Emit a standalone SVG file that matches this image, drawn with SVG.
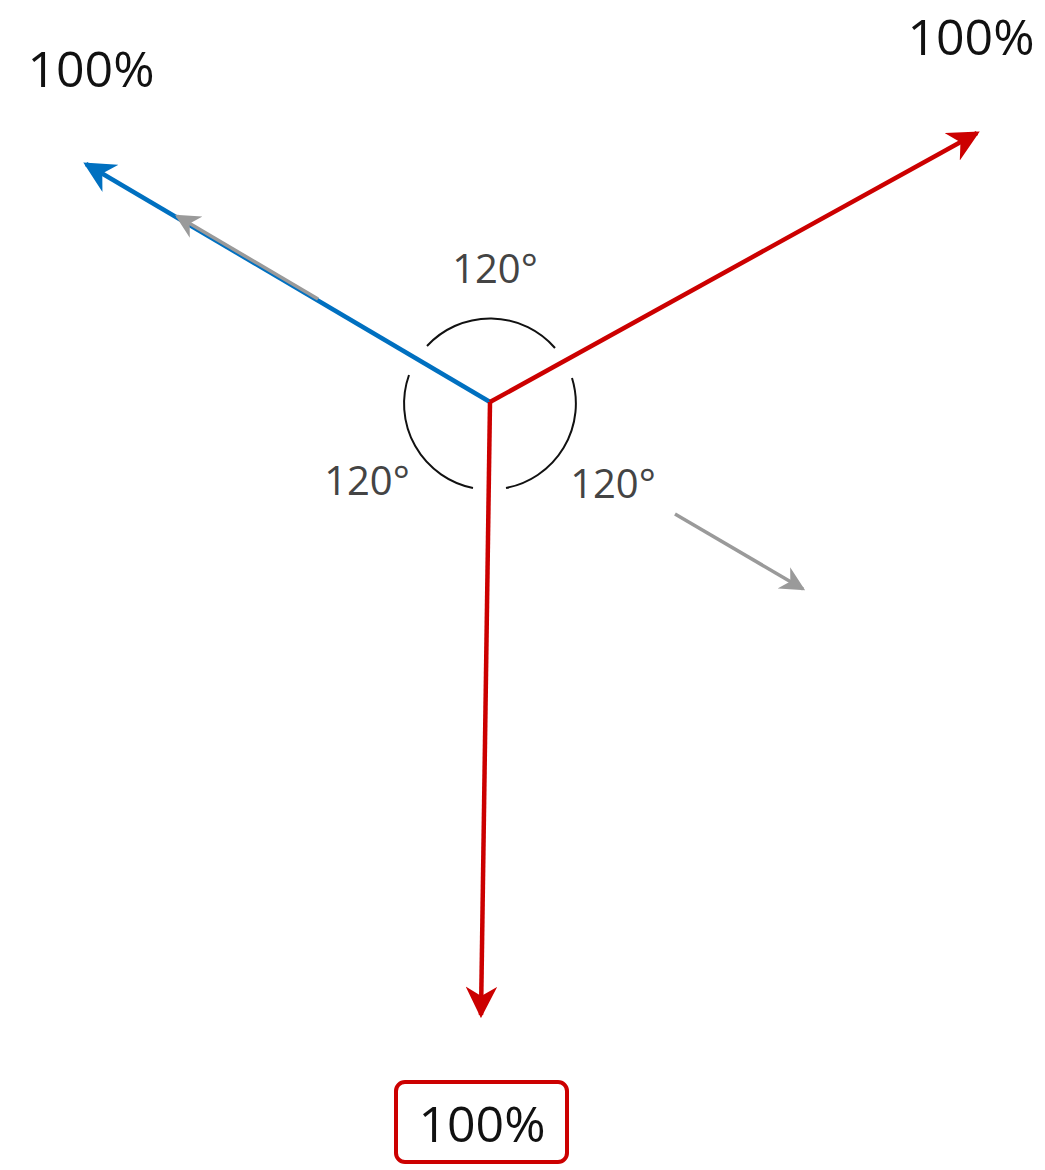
<svg xmlns="http://www.w3.org/2000/svg" width="1045" height="1170" viewBox="0 0 1045 1170">
<style>
.lbl{font-family:"Open Sans","Noto Sans",sans-serif;fill:#111;font-size:50px;text-anchor:middle;}
.ang{font-family:"Open Sans","Noto Sans",sans-serif;fill:#444;font-size:40px;text-anchor:middle;}
.arc{fill:none;stroke:#111;stroke-width:2;}
</style>
<defs>
<marker id="ar" viewBox="0 0 10 10" refX="9" refY="5" markerWidth="7" markerHeight="7" orient="auto" markerUnits="strokeWidth"><path d="M0,0 L10,5 L0,10 L3,5 Z" fill="#CC0000"/></marker>
<marker id="ab" viewBox="0 0 10 10" refX="9" refY="5" markerWidth="7" markerHeight="7" orient="auto" markerUnits="strokeWidth"><path d="M0,0 L10,5 L0,10 L3,5 Z" fill="#0070C0"/></marker>
<marker id="ag" viewBox="0 0 10 10" refX="9" refY="5" markerWidth="7" markerHeight="7" orient="auto" markerUnits="strokeWidth"><path d="M0,0 L10,5 L0,10 L3,5 Z" fill="#9a9a9a"/></marker>
</defs>
<g id="connectors">
<line x1="490" y1="402" x2="86" y2="164" stroke="#0070C0" stroke-width="4.5" marker-end="url(#ab)"/>
<line x1="318" y1="299" x2="177" y2="216" stroke="#9a9a9a" stroke-width="3.5" marker-end="url(#ag)"/>
<line x1="490" y1="402" x2="977" y2="133" stroke="#CC0000" stroke-width="4.5" marker-end="url(#ar)"/>
<line x1="490" y1="402" x2="481" y2="1015" stroke="#CC0000" stroke-width="4.5" marker-end="url(#ar)"/>
<line x1="675" y1="514" x2="803" y2="589" stroke="#9a9a9a" stroke-width="3.5" marker-end="url(#ag)"/>
</g>
<g id="angle-arcs">
<path class="arc" d="M427,346 A86,86 0 0 1 555,348"/>
<path class="arc" d="M572,378 A86,86 0 0 1 506,488"/>
<path class="arc" d="M473,488 A86,86 0 0 1 409,375"/>
</g>
<g id="angle-labels">
<text class="ang" x="495" y="283">120°</text>
<text class="ang" x="367" y="495">120°</text>
<text class="ang" x="613" y="498">120°</text>
</g>
<g id="node-left"><text class="lbl" x="91" y="87">100%</text></g>
<g id="node-right"><text class="lbl" x="971" y="55">100%</text></g>
<g id="node-bottom">
<rect x="396" y="1082" width="171" height="80" rx="9" fill="none" stroke="#CC0000" stroke-width="4"/>
<text class="lbl" x="482" y="1142">100%</text>
</g>
</svg>
